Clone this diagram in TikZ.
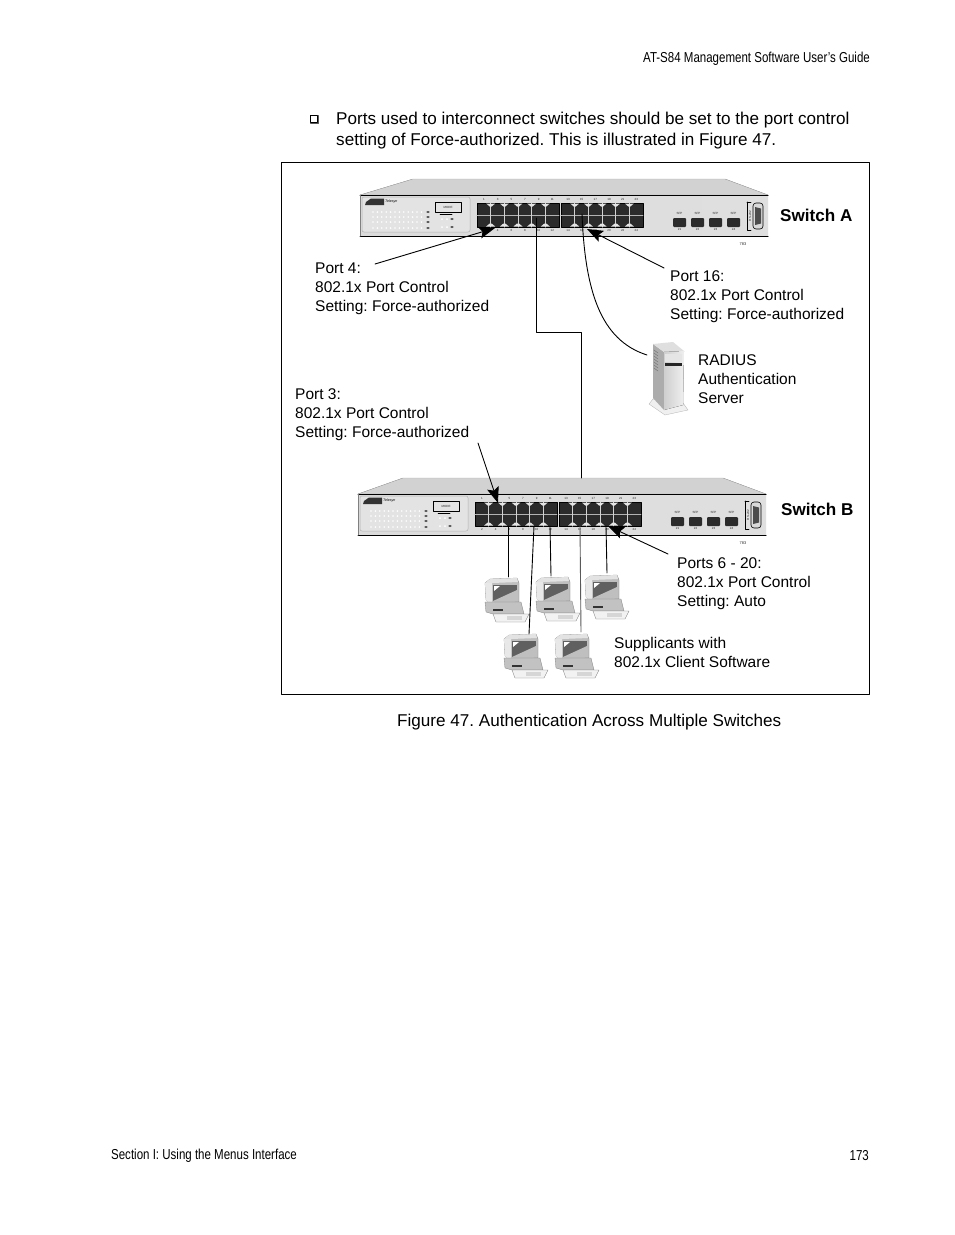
\documentclass[tikz,border=0pt]{standalone}
\usepackage{fontspec}
\setmainfont{Liberation Sans}
\usetikzlibrary{arrows.meta}
\definecolor{portdark}{HTML}{2B2B2B}
\newcommand{\tinyfont}{\fontsize{3}{3.4}\selectfont}
\tikzset{
    pagetext/.style={inner sep=0pt,anchor=west,font=\frenchspacing\fontsize{17.1}{21}\selectfont},
    narrowtext/.style={inner sep=0pt,xscale=.8,font=\fontsize{14.4}{17}\selectfont},
    calloutlabel/.style={inner sep=0pt,anchor=north west,align=left,font=\frenchspacing\fontsize{15.5}{19}\selectfont},
    switchname/.style={inner sep=0pt,anchor=west,font=\fontsize{17.1}{21}\selectfont\bfseries},
    callout/.style={->,line width=.9pt},
    cable/.style={line width=.9pt},
    tinylabel/.style={inner sep=0pt,font=\tinyfont,text=black!85},
    pics/portblock/.style={code={
        \fill[portdark] (0,0) rectangle (82,24);
        \draw[black] (0,0) rectangle (82,24);
        \draw[gray!60,line width=.6pt] (0,12) -- (82,12);
        \foreach \n in {1,...,5}{
            \draw[gray!35,line width=1pt] ({\n*13.67},0) -- ({\n*13.67},24);
            \fill[gray!20] ({\n*13.67-4.5},.5) -- ({\n*13.67+4.5},.5) -- ({\n*13.67+1},3.5) -- ({\n*13.67-1},3.5) -- cycle;
            \fill[gray!20] ({\n*13.67-4.5},23.5) -- ({\n*13.67+4.5},23.5) -- ({\n*13.67+1},20.5) -- ({\n*13.67-1},20.5) -- cycle;
        }
    }},
    pics/sfpcage/.style={code={
        \fill[portdark,rounded corners=1pt] (0,0) rectangle (13,9);
        \node[tinylabel] at (6.5,-4.5) {SFP};
        \node[tinylabel] at (6.5,11.5) {#1};
    }},
    pics/switchbody/.style={code={
        % top face
        \fill[left color=gray!35,middle color=white,right color=gray!35,draw=gray!60,line width=.4pt] (#1,-16) -- (365,-16) -- (408,0) -- (0,0) -- cycle;
        % front face
        \fill[left color=gray!28,middle color=gray!10,right color=gray!25] (0,0) rectangle (408,41);
        \draw[line width=1pt] (0,0) -- (408,0) (0,41) -- (408,41);
        \draw[gray,line width=.5pt] (0,0) -- (0,41);
        % led panel
        \draw[gray!60,fill=gray!22,rounded corners=2pt,line width=.5pt] (2,2) rectangle (110,37);
        \fill[black!80] (6,7) -- (11,3.5) -- (24,3.5) -- (24,10) -- (5,10) -- cycle;
        \node[inner sep=0pt,anchor=west,font=\fontsize{3.6}{4}\selectfont\itshape] at (25,6.5) {Telesyn};
        \foreach \ledy in {17,22,27,33}
            \foreach \n in {0,...,11}
                \fill[white] ({13+\n*4.4},\ledy) circle (.9);
        \foreach \ledy in {17,22,27,33}
            \fill[gray!50!black] (68,\ledy) ellipse (1.8 and 1);
        \draw[black,line width=.8pt] (75,7) rectangle (101,17);
        \node[tinylabel] at (88,12) {MODE};
        \draw[line width=.5pt] (80,19) -- (92,19);
        \foreach \ledy in {24,32}{
            \fill[white] (82,\ledy) circle (1);
            \fill[white] (87,\ledy) circle (1);
            \fill[gray!50!black] (92,\ledy) ellipse (1.8 and 1);
        }
        % ports
        \pic at (117,8) {portblock};
        \pic at (201,8) {portblock};
        \foreach \n [count=\i from 0] in {1,3,5,7,9,11}{
            \node[tinylabel] at ({124+\i*13.67},4.5) {\n};
            \node[tinylabel] at ({208+\i*13.67},4.5) {\the\numexpr\n+12\relax};
        }
        \foreach \n [count=\i from 0] in {2,4,6,8,10,12}{
            \node[tinylabel] at ({124+\i*13.67},35) {\n};
            \node[tinylabel] at ({208+\i*13.67},35) {\the\numexpr\n+12\relax};
        }
        \pic at (313,23) {sfpcage=21};
        \pic at (331,23) {sfpcage=22};
        \pic at (349,23) {sfpcage=23};
        \pic at (367,23) {sfpcage=24};
        % console
        \draw[black,line width=.8pt] (387,7) -- (391,7) (387,7) -- (387,35) -- (391,35);
        \draw[fill=gray!30,rounded corners=3pt,line width=.6pt] (393,8) rectangle (403,34);
        \fill[gray!60!black] (395,12) -- (401,13.5) -- (401,28.5) -- (395,30) -- cycle;
        \node[tinylabel,rotate=90] at (390,21) {RS-232};
    }},
    pics/pcunit/.style={code={
        % monitor
        \fill[gray!50,draw=gray,line width=.3pt] (0,5) -- (5,1) -- (32,0) -- (34,5) -- (34,24) -- (4,25) -- (1,22) -- cycle;
        \fill[gray!22] (0,5) -- (5,1) -- (32,0) -- (33,4) -- (7,5) -- cycle;
        \fill[gray!18] (0,5) -- (7,5) -- (7,24) -- (4,25) -- (1,22) -- cycle;
        \fill[gray!75!black] (8,7) rectangle (32,23);
        \fill[gray!50] (8,23) -- (32,23) -- (32,12) -- cycle;
        \fill[white] (9,8) -- (15,8) -- (9,13) -- cycle;
        % base
        \fill[gray!48,draw=gray,line width=.3pt] (0,24) -- (36,24) -- (39,36) -- (8,36) -- (1,34) -- cycle;
        \fill[black!80] (8,31) rectangle (18,33);
        % keyboard
        \fill[gray!10,draw=gray,line width=.3pt] (8,36) -- (44,36) -- (40,44) -- (11,44) -- cycle;
        \fill[gray!32] (22,38) rectangle (37,42);
    }},
}
\begin{document}
\begin{tikzpicture}[x=1pt,y=-1pt,>={Stealth[length=16pt,width=12pt,inset=3pt]},line join=round,line cap=round]
    \useasboundingbox (0,0) rectangle (954,1235);
    \fill[white] (0,0) rectangle (954,1235);
    % page text
    \node[narrowtext,anchor=east] (guide) at (870,59) {AT-S84 Management Software User’s Guide};
    \node[draw,line width=.7pt,minimum size=7.5pt,inner sep=0pt] (bullet) at (314,119) {};
    \draw[line width=1pt,gray!70!black] (310.5,123.3) -- (318.5,123.3) -- (318.5,115.5);
    \node[pagetext] (intro1) at (336,120) {Ports used to interconnect switches should be set to the port control};
    \node[pagetext] (intro2) at (336,141) {setting of Force-authorized. This is illustrated in Figure 47.};
    \node[pagetext] (caption) at (397,722) {Figure 47. Authentication Across Multiple Switches};
    \node[narrowtext,anchor=west] (section) at (111,1156) {Section I: Using the Menus Interface};
    \node[narrowtext,anchor=east] (pagenum) at (869,1156) {173};
    % frame
    \draw[line width=.9pt] (281,162) rectangle (869.5,694);
    % switches
    \pic at (360,195) {switchbody=53};
    \pic at (358,494) {switchbody=45};
    \node[tinylabel,font=\fontsize{4}{4}\selectfont] (codeA) at (743,244) {783};
    \node[tinylabel,font=\fontsize{4}{4}\selectfont] (codeB) at (743,543) {783};
    \node[switchname] (switchA) at (780,215.5) {Switch A};
    \node[switchname] (switchB) at (781,509.5) {Switch B};
    % server
    \fill[gray!12,draw=gray!60,line width=.3pt] (649,404) -- (653,399) -- (683,403) -- (688,410) -- (665,415) -- cycle;
    \fill[gray!65] (653,344) -- (664,352) -- (664,410) -- (653,398) -- cycle;
    \foreach \venty in {350,353,...,368}
        \draw[gray!85!black,line width=.4pt] (654,\venty) -- (658,{\venty+3});
    \fill[gray!25] (653,344) -- (673,342) -- (684,351) -- (664,352) -- cycle;
    \fill[left color=gray!38,right color=gray!12] (664,352) -- (684,351) -- (683,405) -- (664,410) -- cycle;
    \fill[gray!20] (665,354) rectangle (682,362);
    \fill[black!85] (665,363) rectangle (682,366);
    \coordinate (serverport) at (647,355);
    % computers
    \pic at (485,578) {pcunit};
    \pic at (536,577) {pcunit};
    \pic at (585,575) {pcunit};
    \pic at (504,634) {pcunit};
    \pic at (555,634) {pcunit};
    % connector ends
    \coordinate (portA4) at (495,228);
    \coordinate (portA16) at (587,229);
    \coordinate (portB3) at (498,503);
    \coordinate (portB20) at (608,526);
    \coordinate (tailA4) at (375,264);
    \coordinate (tailA16) at (664,268);
    \coordinate (tailB3) at (478,443);
    \coordinate (tailB20) at (668,554);
    \coordinate (uplinkA) at (536,218);
    \coordinate (uplinkB) at (581,478);
    \coordinate (radiusA) at (582,214);
    \coordinate (jackB1) at (508,526);
    \coordinate (jackB2) at (534,526);
    \coordinate (jackB3) at (550,526);
    \coordinate (jackB4) at (580,526);
    \coordinate (jackB5) at (606,526);
    \coordinate (pc1) at (508,577);
    \coordinate (pc2) at (551,576);
    \coordinate (pc3) at (607,573);
    \coordinate (pc4) at (529,634);
    \coordinate (pc5) at (581,632);
    % connectors
    \draw[cable] (uplinkA) -- (536,332) -- (581,332) -- (uplinkB);
    \draw[cable] (radiusA) .. controls (585,290) and (600,340) .. (serverport);
    \draw[cable] (jackB1) -- (pc1);
    \draw[cable] (jackB2) -- (pc4);
    \draw[cable] (jackB3) -- (pc2);
    \draw[cable,gray!70!black] (jackB4) -- (pc5);
    \draw[cable] (jackB5) -- (pc3);
    \draw[callout] (tailA4) -- (portA4);
    \draw[callout] (tailA16) -- (portA16);
    \draw[callout] (tailB3) -- (portB3);
    \draw[callout] (tailB20) -- (portB20);
    % labels
    \node[calloutlabel] (labelA4) at (315,263) {Port 4:\\802.1x Port Control\\Setting: Force-authorized};
    \node[calloutlabel] (labelA16) at (670,270.5) {Port 16:\\802.1x Port Control\\Setting: Force-authorized};
    \node[calloutlabel] (labelRadius) at (698,354) {RADIUS\\Authentication\\Server};
    \node[calloutlabel] (labelB3) at (295,388) {Port 3:\\802.1x Port Control\\Setting: Force-authorized};
    \node[calloutlabel] (labelB20) at (677,557) {Ports 6 - 20:\\802.1x Port Control\\Setting: Auto};
    \node[calloutlabel] (labelPc) at (614,637) {Supplicants with\\802.1x Client Software};
\end{tikzpicture}
\end{document}
